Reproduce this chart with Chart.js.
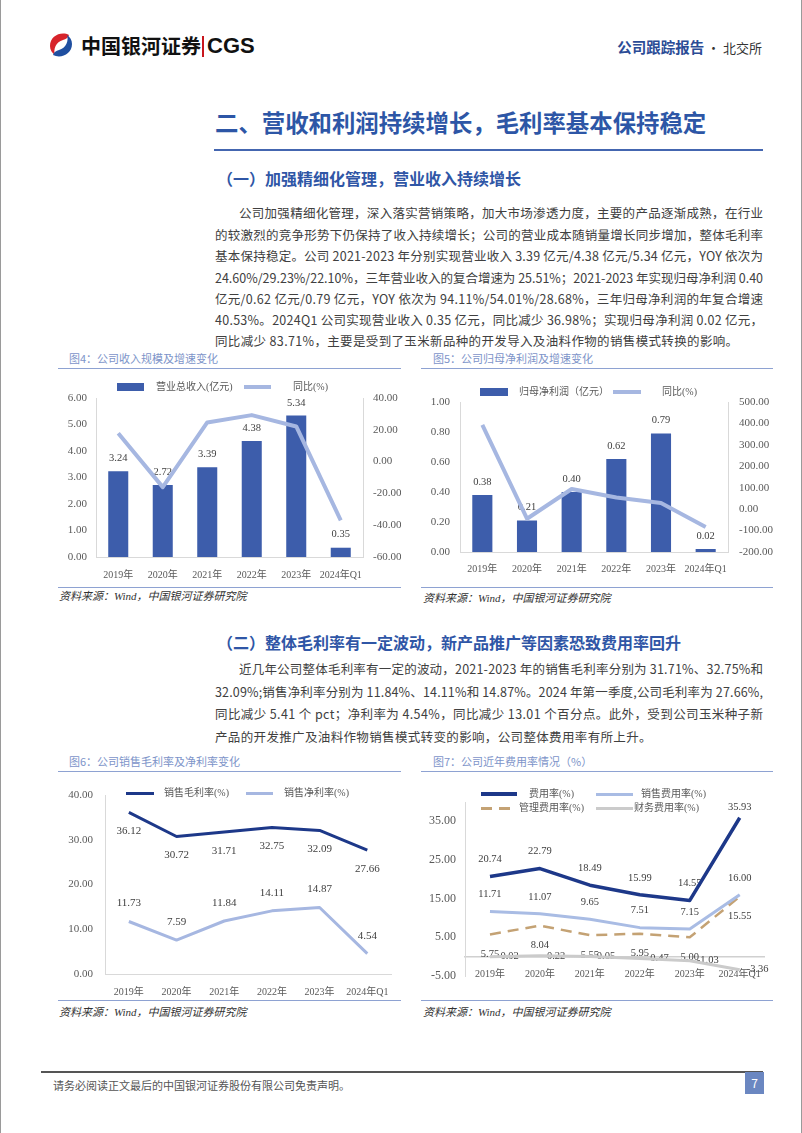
<!DOCTYPE html>
<html>
<head>
<meta charset="utf-8">
<script src="https://cdn.jsdelivr.net/npm/chart.js@4.4.1/dist/chart.umd.min.js"></script>
<style>
  html, body { margin: 0; padding: 0; background: #fff; }
  #page { position: relative; width: 802px; height: 1133px; overflow: hidden; box-sizing: border-box;
          border-left: 1px solid #9a9a9a; border-right: 1px solid #9a9a9a;
          font-family: "Noto Sans CJK SC", sans-serif; }
  .abs { position: absolute; white-space: nowrap; }
  .txt { position: absolute; left: 214px; font-size: 12.5px; line-height: 20px; color: #404040; white-space: nowrap; }
  .h1 { font-size: 23.4px; font-weight: bold; color: #2d56a6; line-height: 30px; }
  .h2 { font-size: 16px; font-weight: bold; color: #2f56a6; line-height: 20px; }
  .figt { font-size: 11px; color: #7d94c9; line-height: 14px; }
  .rule { position: absolute; height: 1px; background: #8ea2d2; }
  .src { font-size: 11px; font-style: italic; color: #333; line-height: 14px; font-family: "Liberation Serif", "Noto Sans CJK SC", serif; }
  canvas { position: absolute; }
  .lg { position: absolute; font-size: 10px; color: #595959; line-height: 12px; white-space: nowrap;
        font-family: "Liberation Serif", "Noto Sans CJK SC", serif; }
  .sw { position: absolute; }
</style>
</head>
<body>
<div id="page">
  <!-- header -->
  <svg class="abs" style="left:46px;top:31px" width="28" height="28" viewBox="0 0 28 28">
    <path d="M22 4 C14 0 3 5 3 15 C3 19 5 22 8 24 C6 18 9 11 16 9 C19 8 21 7 22 4 Z" fill="#d7242b"/>
    <path d="M6 24 C14 28 25 23 25 13 C25 9 23 6 20 4 C22 10 19 17 12 19 C9 20 7 21 6 24 Z" fill="#1f4fa0"/>
  </svg>
  <div class="abs" style="left:80px;top:35px;font-size:20px;font-weight:bold;line-height:22px;color:#111">中国银河证券</div>
  <div class="abs" style="left:201px;top:36px;width:2px;height:21px;background:#c8161d"></div>
  <div class="abs" style="left:206px;top:33px;font-size:22px;font-weight:bold;line-height:26px;color:#111;font-family:'Liberation Sans',sans-serif">CGS</div>
  <div class="abs" style="right:39px;top:37px;line-height:18px;color:#333">
    <span style="font-size:14.5px;font-weight:bold;color:#2b4c96">公司跟踪报告</span><span style="font-size:13px"> · 北交所</span>
  </div>

  <div class="abs h1" style="left:214px;top:107px">二、营收和利润持续增长，毛利率基本保持稳定</div>
  <div class="abs" style="left:213px;top:149px;width:549px;height:2px;background:#4466b0"></div>
  <div class="abs h2" style="left:216px;top:168px">（一）加强精细化管理，营业收入持续增长</div>

  <div class="txt fit" data-indent="24" style="top:203px">公司加强精细化管理，深入落实营销策略，加大市场渗透力度，主要的产品逐渐成熟，在行业</div>
  <div class="txt fit" style="top:224.5px">的较激烈的竞争形势下仍保持了收入持续增长；公司的营业成本随销量增长同步增加，整体毛利率</div>
  <div class="txt fit" style="top:246px">基本保持稳定。公司 2021-2023 年分别实现营业收入 3.39 亿元/4.38 亿元/5.34 亿元，YOY 依次为</div>
  <div class="txt fit" style="top:267.5px">24.60%/29.23%/22.10%，三年营业收入的复合增速为 25.51%；2021-2023 年实现归母净利润 0.40</div>
  <div class="txt fit" style="top:289px">亿元/0.62 亿元/0.79 亿元，YOY 依次为 94.11%/54.01%/28.68%，三年归母净利润的年复合增速</div>
  <div class="txt fit" style="top:310px">40.53%。2024Q1 公司实现营业收入 0.35 亿元，同比减少 36.98%；实现归母净利润 0.02 亿元，</div>
  <div class="txt" style="top:331px;letter-spacing:0.35px">同比减少 83.71%，主要是受到了玉米新品种的开发导入及油料作物的销售模式转换的影响。</div>

  <!-- figure 4 / 5 -->
  <div class="abs figt" style="left:68px;top:351px">图4：公司收入规模及增速变化</div>
  <div class="rule" style="left:57px;top:368px;width:343px"></div>
  <div class="abs figt" style="left:432px;top:351px">图5：公司归母净利润及增速变化</div>
  <div class="rule" style="left:420px;top:368px;width:352px"></div>
  <canvas id="c4" width="340" height="212" style="left:60px;top:372px"></canvas>
  <canvas id="c5" width="352" height="212" style="left:420px;top:372px"></canvas>
  <div class="rule" style="left:57px;top:587px;width:343px"></div>
  <div class="rule" style="left:420px;top:587px;width:352px"></div>
  <div class="abs src" style="left:58px;top:589px">资料来源：Wind，中国银河证券研究院</div>
  <div class="abs src" style="left:422px;top:591px">资料来源：Wind，中国银河证券研究院</div>

  <div class="abs h2" style="left:216px;top:632px">（二）整体毛利率有一定波动，新产品推广等因素恐致费用率回升</div>
  <div class="txt fit" data-indent="24" style="top:659px">近几年公司整体毛利率有一定的波动，2021-2023 年的销售毛利率分别为 31.71%、32.75%和</div>
  <div class="txt fit" style="top:681.5px">32.09%;销售净利率分别为 11.84%、14.11%和 14.87%。2024 年第一季度,公司毛利率为 27.66%,</div>
  <div class="txt fit" style="top:704px">同比减少 5.41 个 pct；净利率为 4.54%，同比减少 13.01 个百分点。此外，受到公司玉米种子新</div>
  <div class="txt" style="top:726.5px;letter-spacing:0.35px">产品的开发推广及油料作物销售模式转变的影响，公司整体费用率有所上升。</div>

  <!-- figure 6 / 7 -->
  <div class="abs figt" style="left:68px;top:754px">图6：公司销售毛利率及净利率变化</div>
  <div class="rule" style="left:57px;top:771px;width:343px"></div>
  <div class="abs figt" style="left:432px;top:754px">图7：公司近年费用率情况（%）</div>
  <div class="rule" style="left:420px;top:771px;width:352px"></div>
  <canvas id="c6" width="340" height="225" style="left:60px;top:773px"></canvas>
  <canvas id="c7" width="352" height="225" style="left:420px;top:773px"></canvas>
  <div class="rule" style="left:57px;top:1000px;width:343px"></div>
  <div class="rule" style="left:420px;top:1000px;width:352px"></div>
  <div class="abs src" style="left:58px;top:1005px">资料来源：Wind，中国银河证券研究院</div>
  <div class="abs src" style="left:422px;top:1005px">资料来源：Wind，中国银河证券研究院</div>

  <!-- footer -->
  <div class="abs" style="left:40px;top:1071px;width:722px;height:1.5px;background:#555"></div>
  <div class="abs" style="left:52px;top:1078px;font-size:11px;line-height:14px;color:#555">请务必阅读正文最后的中国银河证券股份有限公司免责声明。</div>
  <div class="abs" style="left:744px;top:1072px;width:19px;height:22px;background:#6b87c1;color:#fff;font-size:12px;line-height:22px;text-align:center">7</div>
</div>

<script>
// categories
const years = ['2019年', '2020年', '2021年', '2022年', '2023年', '2024年Q1'];

// fig 4
const revenue = [3.24, 2.72, 3.39, 4.38, 5.34, 0.35];
const revenueYoy = [17.8, -16.05, 24.60, 29.23, 22.10, -36.98];
const revTicks = [0, 1, 2, 3, 4, 5, 6];
const revYoyTicks = [-60, -40, -20, 0, 20, 40];

// fig 5
const netProfit = [0.38, 0.21, 0.40, 0.62, 0.79, 0.02];
const netProfitYoy = [393, -44.7, 94.11, 54.01, 28.68, -83.71];
const profitTicks = [0, 0.2, 0.4, 0.6, 0.8, 1.0];
const profitYoyTicks = [-200, -100, 0, 100, 200, 300, 400, 500];

// fig 6
const grossMargin = [36.12, 30.72, 31.71, 32.75, 32.09, 27.66];
const netMargin = [11.73, 7.59, 11.84, 14.11, 14.87, 4.54];
const marginTicks = [0, 10, 20, 30, 40];

// fig 7
const expenseRate = [20.74, 22.79, 18.49, 15.99, 14.55, 35.93];
const sellingRate = [11.71, 11.07, 9.65, 7.51, 7.15, 16.00];
const adminRate = [5.75, 8.04, 5.55, 5.95, 5.00, 15.55];
const financeRate = [-0.02, 0.22, 0.05, -0.47, -1.03, -3.36];
const expenseTicks = [-5, 5, 15, 25, 35];

const FONT = '"Liberation Serif", "Noto Sans CJK SC", serif';
const GREY = '#595959';
const AXIS = '#d9d9d9';

// stretch each full text line to the column width (548px)
document.querySelectorAll('.txt.fit').forEach(el => {
  const indent = +(el.dataset.indent || 0);
  el.style.paddingLeft = indent + 'px';
  const len = [...el.textContent].length;
  const w = el.getBoundingClientRect().width;
  el.style.letterSpacing = ((548 - w) / (len - 1)) + 'px';
});

// value labels, drawn under the series like the source
const valueLabels = {
  id: 'valueLabels',
  beforeDatasetsDraw(chart) {
    const { ctx, chartArea } = chart;
    chart.data.datasets.forEach((ds, i) => {
      const lab = ds.valueLabel;
      if (!lab) return;
      const meta = chart.getDatasetMeta(i);
      ctx.save();
      ctx.font = (lab.size || 10.5) + 'px ' + FONT;
      ctx.fillStyle = '#404040';
      ctx.textBaseline = 'middle';
      meta.data.forEach((el, j) => {
        const txt = ds.data[j].toFixed(2);
        let x = el.x, y = el.y;
        if (lab.pos === 'top') {
          ctx.textAlign = 'center';
          y = Math.max(y - lab.offset, chartArea.top + 5);
        } else if (lab.pos === 'bottom') {
          ctx.textAlign = 'center';
          y = y + lab.offset;
        } else {
          ctx.textAlign = 'left';
          x = x + lab.offset;
        }
        ctx.fillText(txt, x, y);
      });
      ctx.restore();
    });
  }
};

const fixTicks = list => scale => { scale.ticks = list.map(v => ({ value: v })); };
const base = {
  responsive: false,
  animation: false,
  devicePixelRatio: 1,
  plugins: { legend: { display: false }, tooltip: { enabled: false } }
};
const xTicks = pad => ({ font: { family: FONT, size: 10 }, color: GREY, padding: pad,
                         maxRotation: 0, minRotation: 0, autoSkip: false });

// Figure 4
new Chart(document.getElementById('c4'), {
  type: 'bar',
  data: {
    labels: years,
    datasets: [
      { type: 'line', label: '同比(%)', data: revenueYoy, yAxisID: 'y1', borderColor: '#a6b7e1',
        borderWidth: 4, pointRadius: 0, tension: 0, order: 0, borderJoinStyle: 'round' },
      { type: 'bar', label: '营业总收入(亿元)', data: revenue, yAxisID: 'y', backgroundColor: '#3d5dab',
        barPercentage: 0.45, categoryPercentage: 1, order: 1, valueLabel: { pos: 'top', offset: 13 } }
    ]
  },
  options: {
    ...base,
    layout: { padding: { top: 26, left: 0, right: 0, bottom: 0 } },
    scales: {
      x: { grid: { display: false, drawTicks: false }, border: { color: AXIS }, ticks: xTicks(12),
           afterFit: s => { s.height = 27; } },
      y: { position: 'left', min: 0, max: 6, afterBuildTicks: fixTicks(revTicks),
           grid: { display: false, drawTicks: false }, border: { color: AXIS },
           ticks: { font: { family: FONT, size: 11 }, color: GREY, padding: 9, callback: v => v.toFixed(2) },
           afterFit: s => { s.width = 35; } },
      y1: { position: 'right', min: -60, max: 40, afterBuildTicks: fixTicks(revYoyTicks),
            grid: { display: false, drawTicks: false }, border: { color: AXIS },
            ticks: { font: { family: FONT, size: 11 }, color: GREY, padding: 10, callback: v => v.toFixed(2) },
            afterFit: s => { s.width = 38; } }
    }
  },
  plugins: [valueLabels]
});

// Figure 5
new Chart(document.getElementById('c5'), {
  type: 'bar',
  data: {
    labels: years,
    datasets: [
      { type: 'line', label: '同比(%)', data: netProfitYoy, yAxisID: 'y1', borderColor: '#a6b7e1',
        borderWidth: 4, pointRadius: 0, tension: 0, order: 0, borderJoinStyle: 'round' },
      { type: 'bar', label: '归母净利润（亿元）', data: netProfit, yAxisID: 'y', backgroundColor: '#3d5dab',
        barPercentage: 0.45, categoryPercentage: 1, order: 1, valueLabel: { pos: 'top', offset: 13 } }
    ]
  },
  options: {
    ...base,
    layout: { padding: { top: 30, left: 0, right: 0, bottom: 0 } },
    scales: {
      x: { grid: { display: false, drawTicks: false }, border: { color: AXIS }, ticks: xTicks(11),
           afterFit: s => { s.height = 32; } },
      y: { position: 'left', min: 0, max: 1, afterBuildTicks: fixTicks(profitTicks),
           grid: { display: false, drawTicks: false }, border: { color: AXIS },
           ticks: { font: { family: FONT, size: 11 }, color: GREY, padding: 10, callback: v => v.toFixed(2) },
           afterFit: s => { s.width = 39; } },
      y1: { position: 'right', min: -200, max: 500, afterBuildTicks: fixTicks(profitYoyTicks),
            grid: { display: false, drawTicks: false }, border: { color: AXIS },
            ticks: { font: { family: FONT, size: 11 }, color: GREY, padding: 11, callback: v => v.toFixed(2) },
            afterFit: s => { s.width = 45; } }
    }
  },
  plugins: [valueLabels]
});

// Figure 6
new Chart(document.getElementById('c6'), {
  type: 'line',
  data: {
    labels: years,
    datasets: [
      { label: '销售毛利率(%)', data: grossMargin, borderColor: '#1d3889', borderWidth: 3, pointRadius: 0,
        tension: 0, borderJoinStyle: 'round', valueLabel: { pos: 'bottom', offset: 19, size: 11 } },
      { label: '销售净利率(%)', data: netMargin, borderColor: '#a6b7e1', borderWidth: 3, pointRadius: 0,
        tension: 0, borderJoinStyle: 'round', valueLabel: { pos: 'top', offset: 18, size: 11 } }
    ]
  },
  options: {
    ...base,
    layout: { padding: { top: 22, left: 0, right: 7, bottom: 0 } },
    scales: {
      x: { offset: true, grid: { display: false, drawTicks: false }, border: { color: AXIS }, ticks: xTicks(12),
           afterFit: s => { s.height = 24; } },
      y: { min: 0, max: 40, afterBuildTicks: fixTicks(marginTicks),
           grid: { display: false, drawTicks: false }, border: { color: AXIS },
           ticks: { font: { family: FONT, size: 11 }, color: GREY, padding: 12, callback: v => v.toFixed(2) },
           afterFit: s => { s.width = 44; } }
    }
  },
  plugins: [valueLabels]
});

// Figure 7
new Chart(document.getElementById('c7'), {
  type: 'line',
  data: {
    labels: years,
    datasets: [
      { label: '费用率(%)', data: expenseRate, borderColor: '#1d3889', borderWidth: 3.5, pointRadius: 0,
        tension: 0, borderJoinStyle: 'round', valueLabel: { pos: 'top', offset: 17 } },
      { label: '销售费用率(%)', data: sellingRate, borderColor: '#a9bce4', borderWidth: 3, pointRadius: 0,
        tension: 0, borderJoinStyle: 'round', valueLabel: { pos: 'top', offset: 17 } },
      { label: '管理费用率(%)', data: adminRate, borderColor: '#c4a274', borderWidth: 2.5, borderDash: [11, 7],
        pointRadius: 0, tension: 0, valueLabel: { pos: 'bottom', offset: 20 } },
      { label: '财务费用率(%)', data: financeRate, borderColor: '#cbcbcb', borderWidth: 3, pointRadius: 0,
        tension: 0, borderJoinStyle: 'round', valueLabel: { pos: 'right', offset: 7 } }
    ]
  },
  options: {
    ...base,
    layout: { padding: { top: 29, left: 0, right: 2, bottom: 22 } },
    scales: {
      x: { offset: true, position: { y: 0 }, grid: { display: false, drawTicks: false },
           border: { color: '#d0d0d0', width: 1.5 }, ticks: xTicks(12) },
      y: { min: -5, max: 40, afterBuildTicks: fixTicks(expenseTicks),
           grid: { display: false, drawTicks: false }, border: { color: AXIS },
           ticks: { font: { family: FONT, size: 12 }, color: GREY, padding: 9, callback: v => v.toFixed(2) },
           afterFit: s => { s.width = 44; } }
    }
  },
  plugins: [valueLabels]
});

// legends (swatches styled like the datasets)
function legend(items) {
  const page = document.getElementById('page');
  items.forEach(it => {
    const sw = document.createElement('div');
    sw.className = 'sw';
    sw.style.left = it.x + 'px';
    sw.style.width = it.w + 'px';
    if (it.kind === 'bar') {
      sw.style.top = (it.y - 4) + 'px'; sw.style.height = '8px'; sw.style.background = it.color;
    } else if (it.kind === 'dash') {
      sw.style.top = (it.y - 1.5) + 'px'; sw.style.height = '3px';
      sw.style.background = 'repeating-linear-gradient(90deg,' + it.color + ' 0 11px, transparent 11px 18px)';
    } else {
      sw.style.top = (it.y - it.lw / 2) + 'px'; sw.style.height = it.lw + 'px'; sw.style.background = it.color;
    }
    page.appendChild(sw);
    const t = document.createElement('div');
    t.className = 'lg';
    t.style.left = it.tx + 'px';
    t.style.top = (it.y - 6) + 'px';
    t.textContent = it.label;
    page.appendChild(t);
  });
}
legend([
  { kind: 'bar', color: '#3d5dab', x: 116, w: 27, y: 387, tx: 155, label: '营业总收入(亿元)' },
  { kind: 'line', lw: 4, color: '#a6b7e1', x: 243, w: 27, y: 387, tx: 292, label: '同比(%)' },
  { kind: 'bar', color: '#3d5dab', x: 479, w: 28, y: 392, tx: 518, label: '归母净利润（亿元）' },
  { kind: 'line', lw: 4, color: '#a6b7e1', x: 612, w: 28, y: 392, tx: 661, label: '同比(%)' },
  { kind: 'line', lw: 3, color: '#1d3889', x: 125, w: 28, y: 793, tx: 163, label: '销售毛利率(%)' },
  { kind: 'line', lw: 3, color: '#a6b7e1', x: 245, w: 27, y: 793, tx: 283, label: '销售净利率(%)' },
  { kind: 'line', lw: 3.5, color: '#1d3889', x: 480, w: 36, y: 794, tx: 528, label: '费用率(%)' },
  { kind: 'line', lw: 3, color: '#a9bce4', x: 595, w: 37, y: 794, tx: 640, label: '销售费用率(%)' },
  { kind: 'dash', color: '#c4a274', x: 480, w: 36, y: 808, tx: 518, label: '管理费用率(%)' },
  { kind: 'line', lw: 3, color: '#cbcbcb', x: 595, w: 37, y: 808, tx: 633, label: '财务费用率(%)' }
]);
</script>
</body>
</html>
